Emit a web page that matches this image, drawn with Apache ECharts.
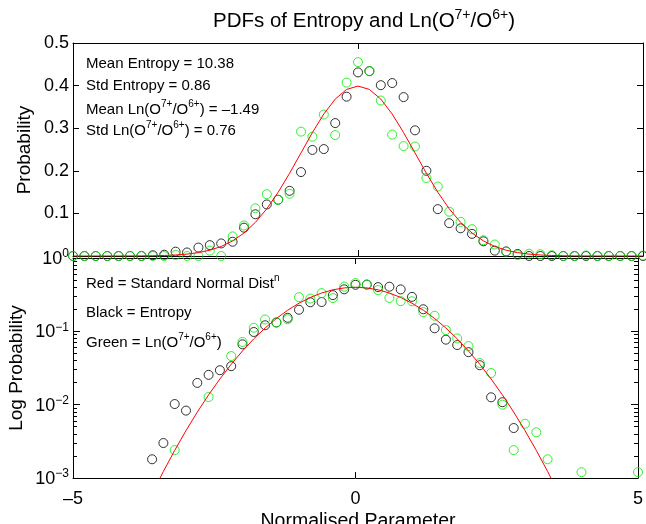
<!DOCTYPE html>
<html>
<head>
<meta charset="utf-8">
<script src="https://cdn.jsdelivr.net/npm/echarts@6/dist/echarts.min.js"></script>
<style>
  html, body { margin: 0; padding: 0; background: #fff; }
  #chart { width: 646px; height: 524px; }
</style>
</head>
<body>
<div id="chart"></div>
<script>
// bin centres of the normalised parameter
const binCentres = [-5, -4.8, -4.6, -4.4, -4.2, -4, -3.8, -3.6, -3.4, -3.2, -3, -2.8, -2.6, -2.4, -2.2, -2,
  -1.8, -1.6, -1.4, -1.2, -1, -0.8, -0.6, -0.4, -0.2, 0, 0.2, 0.4, 0.6, 0.8, 1, 1.2, 1.4, 1.6, 1.8, 2,
  2.2, 2.4, 2.6, 2.8, 3, 3.2, 3.4, 3.6, 3.8, 4, 4.2, 4.4, 4.6, 4.8, 5];

// black circles - entropy
const entropyPdf = [0, 0, 0, 0, 0, 0, 0,
  0.0018, 0.0030, 0.0102, 0.0083, 0.0198, 0.0255, 0.0295, 0.0335, 0.0665, 0.098, 0.121, 0.132,
  0.153, 0.197, 0.249, 0.251, 0.312, 0.374,
  0.431,
  0.434, 0.401, 0.406, 0.373, 0.295, 0.200, 0.110, 0.077, 0.065, 0.052, 0.0345, 0.0126, 0.0108, 0.0048,
  0, 0, 0, 0, 0, 0, 0, 0, 0, 0, 0];

// green circles - Ln(O7+/O6+)
const oxygenPdf = [0, 0, 0, 0, 0, 0, 0, 0, 0,
  0.0024, 0, 0, 0.0127, 0, 0.046, 0.0716, 0.112, 0.145, 0.132, 0.146, 0.292, 0.280, 0.332, 0.284, 0.407,
  0.455,
  0.434, 0.365, 0.285, 0.258, 0.257, 0.183, 0.163, 0.104, 0.080, 0.063, 0.037, 0.027, 0.010, 0.0024,
  0.0055, 0.0042, 0.0018, 0, 0, 0.0012, 0, 0, 0, 0, 0.0012];

// red line - standard normal distribution
const normalPdf = [0.0000015, 0.0000040, 0.0000101, 0.0000249, 0.0000589, 0.000134, 0.000292, 0.000612,
  0.00123, 0.00238, 0.00443, 0.00792, 0.0136, 0.0224, 0.0355, 0.0540, 0.0790, 0.1109, 0.1497, 0.1942,
  0.2420, 0.2897, 0.3332, 0.3683, 0.3910,
  0.3989,
  0.3910, 0.3683, 0.3332, 0.2897, 0.2420, 0.1942, 0.1497, 0.1109, 0.0790, 0.0540, 0.0355, 0.0224, 0.0136,
  0.00792, 0.00443, 0.00238, 0.00123, 0.000612, 0.000292, 0.000134, 0.0000589, 0.0000249, 0.0000101,
  0.0000040, 0.0000015];

const minorLogTicks = [0.002, 0.003, 0.004, 0.005, 0.006, 0.007, 0.008, 0.009,
  0.02, 0.03, 0.04, 0.05, 0.06, 0.07, 0.08, 0.09,
  0.2, 0.3, 0.4, 0.5, 0.6, 0.7, 0.8, 0.9];

const topNotes = [
  '{n|Mean Entropy = 10.38}',
  '{n|Std Entropy = 0.86}',
  '{n|Mean Ln(O}{s|7+}{n|/O}{s|6+}{n|) = \u20131.49}',
  '{n|Std Ln(O}{s|7+}{n|/O}{s|6+}{n|) = 0.76}'
];
const bottomNotes = [
  '{n|Red = Standard Normal Dist}{s|n}',
  '{n|Black = Entropy}',
  '{n|Green = Ln(O}{s|7+}{n|/O}{s|6+}{n|)}'
];

const font = '"Liberation Sans", Arial, Helvetica, sans-serif';
const chart = echarts.init(document.getElementById('chart'));

const pairs = (ys, positiveOnly) =>
  binCentres.map((x, i) => [x, ys[i]]).filter(p => !positiveOnly || p[1] > 0);

const noteRich = {
  n: { fontSize: 15, fontFamily: font, fill: '#000', lineHeight: 18, verticalAlign: 'bottom' },
  s: { fontSize: 10, fontFamily: font, fill: '#000', lineHeight: 11, verticalAlign: 'top' }
};

function note(text, x, y) {
  return {
    type: 'text', x: x, y: y, z: 100,
    style: { text: text, rich: noteRich, textVerticalAlign: 'middle', textAlign: 'left' }
  };
}

const axisLine = { show: true, onZero: false, lineStyle: { color: '#000', width: 1 } };

function xAx(grid, pos, labels) {
  return {
    type: 'value', gridIndex: grid, position: pos, min: -5, max: 5, interval: 5,
    axisLine: axisLine,
    axisTick: { show: true, inside: true, length: 6, lineStyle: { color: '#000' } },
    axisLabel: {
      show: labels, margin: 12, fontSize: 18, fontFamily: font, color: '#000',
      formatter: v => v < 0 ? '\u2013' + (-v) : String(v)
    },
    splitLine: { show: false }
  };
}

function logAx(pos, labels, minor) {
  return {
    type: 'log', gridIndex: 1, position: pos, logBase: 10, min: 0.001, max: 1,
    axisLine: minor ? { show: false, onZero: false } : axisLine,
    axisTick: minor
      ? { show: true, inside: true, length: 4, customValues: minorLogTicks, lineStyle: { color: '#000' } }
      : { show: true, inside: true, length: 7, lineStyle: { color: '#000' } },
    axisLabel: {
      show: labels, margin: 4,
      formatter: v => {
        const e = Math.round(Math.log10(v));
        return '{b|10}{s|' + (e < 0 ? '\u2212' + (-e) : e) + '}';
      },
      rich: {
        b: { fontSize: 18, fontFamily: font, color: '#000', lineHeight: 20, verticalAlign: 'bottom' },
        s: { fontSize: 12, fontFamily: font, color: '#000', lineHeight: 12, verticalAlign: 'top' }
      }
    },
    splitLine: { show: false }
  };
}

function linAx(pos, labels) {
  return {
    type: 'value', gridIndex: 0, position: pos, min: 0, max: 0.5, interval: 0.1,
    axisLine: axisLine,
    axisTick: { show: true, inside: true, length: 6, lineStyle: { color: '#000' } },
    axisLabel: {
      show: labels, margin: 4, fontSize: 18, fontFamily: font, color: '#000',
      formatter: v => v === 0 ? '' : v.toFixed(1)
    },
    splitLine: { show: false }
  };
}

function circles(name, ys, colour, xi, yi, positiveOnly) {
  return {
    name: name, type: 'scatter', xAxisIndex: xi, yAxisIndex: yi,
    symbol: 'circle', symbolSize: 9,
    itemStyle: { color: 'rgba(0,0,0,0)', borderColor: colour, borderWidth: 1 },
    data: pairs(ys, positiveOnly)
  };
}

function curve(xi, yi, positiveOnly) {
  return {
    name: 'Normal', type: 'line', xAxisIndex: xi, yAxisIndex: yi, clip: true,
    showSymbol: false, symbol: 'none', smooth: false,
    lineStyle: { color: '#ff0000', width: 1 },
    data: pairs(normalPdf, positiveOnly)
  };
}

const option = {
  backgroundColor: '#fff',
  animation: false,
  grid: [
    { left: 73, top: 43, width: 570, height: 213 },
    { left: 73, top: 258, width: 570, height: 220 }
  ],
  xAxis: [xAx(0, 'bottom', false), xAx(0, 'top', false), xAx(1, 'bottom', true), xAx(1, 'top', false)],
  yAxis: [linAx('left', true), linAx('right', false),
    logAx('left', true, false), logAx('right', false, false),
    logAx('left', false, true), logAx('right', false, true)],
  series: [
    circles('Entropy', entropyPdf, '#000', 0, 0, false),
    circles('Oxygen', oxygenPdf, '#00ee00', 0, 0, false),
    curve(0, 0, false),
    circles('Entropy', entropyPdf, '#000', 2, 2, true),
    circles('Oxygen', oxygenPdf, '#00ee00', 2, 2, true),
    curve(2, 2, true)
  ],
  graphic: [
    {
      type: 'text', x: 364, y: 20,
      style: {
        text: '{n|PDFs of Entropy and Ln(O}{s|7+}{n|/O}{s|6+}{n|)}',
        textAlign: 'center', textVerticalAlign: 'middle',
        rich: {
          n: { fontSize: 20.5, fontFamily: font, fill: '#000', lineHeight: 24, verticalAlign: 'bottom' },
          s: { fontSize: 14, fontFamily: font, fill: '#000', lineHeight: 14, verticalAlign: 'top' }
        }
      }
    },
    {
      type: 'text', x: 25, y: 150, rotation: Math.PI / 2,
      style: { text: 'Probability', font: '19px ' + font, fill: '#000', textAlign: 'center', textVerticalAlign: 'middle' }
    },
    {
      type: 'text', x: 17, y: 368, rotation: Math.PI / 2,
      style: { text: 'Log Probability', font: '19px ' + font, fill: '#000', textAlign: 'center', textVerticalAlign: 'middle' }
    },
    {
      type: 'text', x: 358, y: 522,
      style: { text: 'Normalised Parameter', font: '19.5px ' + font, fill: '#000', textAlign: 'center', textVerticalAlign: 'middle' }
    },
    note(topNotes[0], 86, 62),
    note(topNotes[1], 86, 84),
    note(topNotes[2], 86, 108),
    note(topNotes[3], 86, 129),
    note(bottomNotes[0], 86, 282),
    note(bottomNotes[1], 86, 311),
    note(bottomNotes[2], 86, 341)
  ]
};

chart.setOption(option);
</script>
</body>
</html>
